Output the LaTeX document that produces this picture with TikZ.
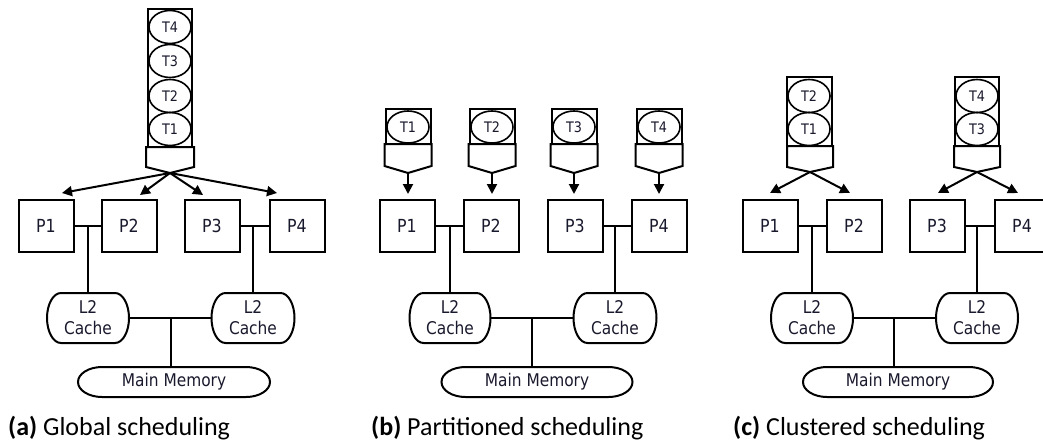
\documentclass[tikz,border=0pt]{standalone}
\usepackage{fontspec}
\setmainfont{Carlito}
\newfontfamily\djf{DejaVu Sans}[FakeStretch=0.88]
\usetikzlibrary{shapes.geometric,arrows.meta}
\definecolor{txt}{RGB}{25,25,45}
\newcommand\roundends[3]{%
 \draw[ln] ([xshift=#2]#1.north west) -- ([xshift=-#2]#1.north east)
   .. controls ([xshift=-0.448*#2]#1.north east) and ([yshift=0.552*#3]#1.east) .. (#1.east)
   .. controls ([yshift=-0.552*#3]#1.east) and ([xshift=-0.448*#2]#1.south east) .. ([xshift=-#2]#1.south east)
   -- ([xshift=#2]#1.south west)
   .. controls ([xshift=0.448*#2]#1.south west) and ([yshift=-0.552*#3]#1.west) .. (#1.west)
   .. controls ([yshift=0.552*#3]#1.west) and ([xshift=0.448*#2]#1.north west) .. cycle;}
\tikzset{
 ln/.style={line width=2pt},
 pbox/.style={draw,ln,minimum width=55pt,minimum height=52pt,inner sep=0pt,text=txt,font=\djf\fontsize{18}{20}\selectfont},
 cache/.style={outer sep=0pt,minimum height=50pt,inner sep=0pt,align=center,text=txt,font=\djf\fontsize{17.5}{21}\selectfont},
 mem/.style={outer sep=0pt,minimum height=30pt,inner sep=0pt,text=txt,font=\djf\fontsize{17.5}{19}\selectfont},
 qbox/.style={draw,ln,inner sep=0pt},
 task/.style={draw,ellipse,line width=1.6pt,minimum width=42pt,minimum height=33pt,inner sep=0pt,text=txt,font=\djf\fontsize{14.5}{16}\selectfont},
 arr/.style={ln,-{Triangle[length=10pt,width=10pt]}},
 captext/.style={anchor=base west,inner sep=0pt,font=\fontsize{26}{30}\selectfont},
}
\begin{document}
\begin{tikzpicture}[x=1pt,y=-1pt]
\useasboundingbox (0,0) rectangle (1043,441);
% ================= (a) =================
\node[qbox,minimum width=44pt,minimum height=138pt] (aq) at (170,78) {};
\node[task] (at4) at (170,27) {T4};
\node[task] (at3) at (170,61) {T3};
\node[task] (at2) at (170,96) {T2};
\node[task] (at1) at (170,129) {T1};
\draw[ln] (146,147) -- (146,167) -- (170,173) -- (194,167) -- (194,147) -- cycle;
\coordinate (ad) at (170,173);
\node[pbox] (aP1) at (46,226) {P1};
\node[pbox] (aP2) at (129,226) {P2};
\node[pbox] (aP3) at (212,226) {P3};
\node[pbox] (aP4) at (297,226) {P4};
\coordinate (aa1) at (62,193);
\coordinate (aa2) at (140,195);
\coordinate (aa3) at (203,195);
\coordinate (aa4) at (277,193);
\foreach \i in {1,...,4} \draw[arr] (ad) -- (aa\i);
\node[cache,minimum width=82pt] (aL1) at (88,318) {L2\\Cache};
\node[cache,minimum width=83pt] (aL2) at (253,318) {L2\\Cache};
\node[mem,minimum width=192pt] (aM) at (174,382) {Main Memory};
\roundends{aL1}{14pt}{25pt}
\roundends{aL2}{14pt}{25pt}
\roundends{aM}{24pt}{15pt}
\draw[ln] (aP1.east) -- (aP2.west);
\draw[ln] (aP3.east) -- (aP4.west);
\draw[ln] (aL1.north) -- (aL1.north |- aP1.east);
\draw[ln] (aL2.north) -- (aL2.north |- aP3.east);
\draw[ln] (aL1.east) -- (aL2.west);
\draw[ln] (171,318) -- (aM.north -| 171,0);
\node[captext] (capa) at (8,435) {\textbf{(a)} Global scheduling};
% ================= (b) =================
\foreach \c/\n in {408/1,492/2,574/3,659/4}{
  \node[qbox,minimum width=45pt,minimum height=35pt] (bq\n) at (\c,126.5) {};
  \node[task,minimum height=32pt] (bt\n) at (\c,127) {T\n};
  \draw[ln] (\c-23.5,144) -- (\c-23.5,166) -- (\c,173) -- (\c+23.5,166) -- (\c+23.5,144) -- cycle;
  \coordinate (bd\n) at (\c,173);
  \coordinate (ba\n) at (\c,194);
}
\node[pbox] (bP1) at (407,226) {P1};
\node[pbox] (bP2) at (491,226) {P2};
\node[pbox] (bP3) at (575,226) {P3};
\node[pbox] (bP4) at (659,226) {P4};
\foreach \i in {1,...,4} \draw[arr] (bd\i) -- (ba\i);
\node[cache,minimum width=81pt] (bL1) at (450,318) {L2\\Cache};
\node[cache,minimum width=83pt] (bL2) at (615,318) {L2\\Cache};
\node[mem,minimum width=191pt] (bM) at (537,382) {Main Memory};
\roundends{bL1}{14pt}{25pt}
\roundends{bL2}{14pt}{25pt}
\roundends{bM}{24pt}{15pt}
\draw[ln] (bP1.east) -- (bP2.west);
\draw[ln] (bP3.east) -- (bP4.west);
\draw[ln] (bL1.north) -- (bL1.north |- bP1.east);
\draw[ln] (bL2.north) -- (bL2.north |- bP3.east);
\draw[ln] (bL1.east) -- (bL2.west);
\draw[ln] (532,318) -- (bM.north -| 532,0);
\node[captext] (capb) at (371,435) {\textbf{(b)} Partitioned scheduling};
% ================= (c) =================
\node[qbox,minimum width=45pt,minimum height=69pt] (cq1) at (809,111.5) {};
\node[task] (ct2) at (809,96) {T2};
\node[task] (ct1) at (809,129) {T1};
\draw[ln] (787,146) -- (787,167) -- (810,172) -- (833,167) -- (833,146) -- cycle;
\coordinate (cd1) at (810,172);
\node[qbox,minimum width=44pt,minimum height=69pt] (cq2) at (977,111.5) {};
\node[task] (ct4) at (977,96) {T4};
\node[task] (ct3) at (977,129) {T3};
\draw[ln] (954,146) -- (954,167) -- (977,172) -- (1000,167) -- (1000,146) -- cycle;
\coordinate (cd2) at (977,172);
\node[pbox] (cP1) at (770,226) {P1};
\node[pbox] (cP2) at (854,226) {P2};
\node[pbox] (cP3) at (937,226) {P3};
\node[pbox] (cP4) at (1022,226) {P4};
\coordinate (ca1) at (770,193);
\coordinate (ca2) at (850,193);
\coordinate (ca3) at (938,193);
\coordinate (ca4) at (1018,193);
\draw[arr] (cd1) -- (ca1);
\draw[arr] (cd1) -- (ca2);
\draw[arr] (cd2) -- (ca3);
\draw[arr] (cd2) -- (ca4);
\node[cache,minimum width=82pt] (cL1) at (812,318) {L2\\Cache};
\node[cache,minimum width=82pt] (cL2) at (977,318) {L2\\Cache};
\node[mem,minimum width=190pt] (cM) at (898,382) {Main Memory};
\roundends{cL1}{14pt}{25pt}
\roundends{cL2}{14pt}{25pt}
\roundends{cM}{24pt}{15pt}
\draw[ln] (cP1.east) -- (cP2.west);
\draw[ln] (cP3.east) -- (cP4.west);
\draw[ln] (cL1.north) -- (cL1.north |- cP1.east);
\draw[ln] (cL2.north) -- (cL2.north |- cP3.east);
\draw[ln] (cL1.east) -- (cL2.west);
\draw[ln] (894,318) -- (cM.north -| 894,0);
\node[captext] (capc) at (733,435) {\textbf{(c)} Clustered scheduling};
\end{tikzpicture}
\end{document}
